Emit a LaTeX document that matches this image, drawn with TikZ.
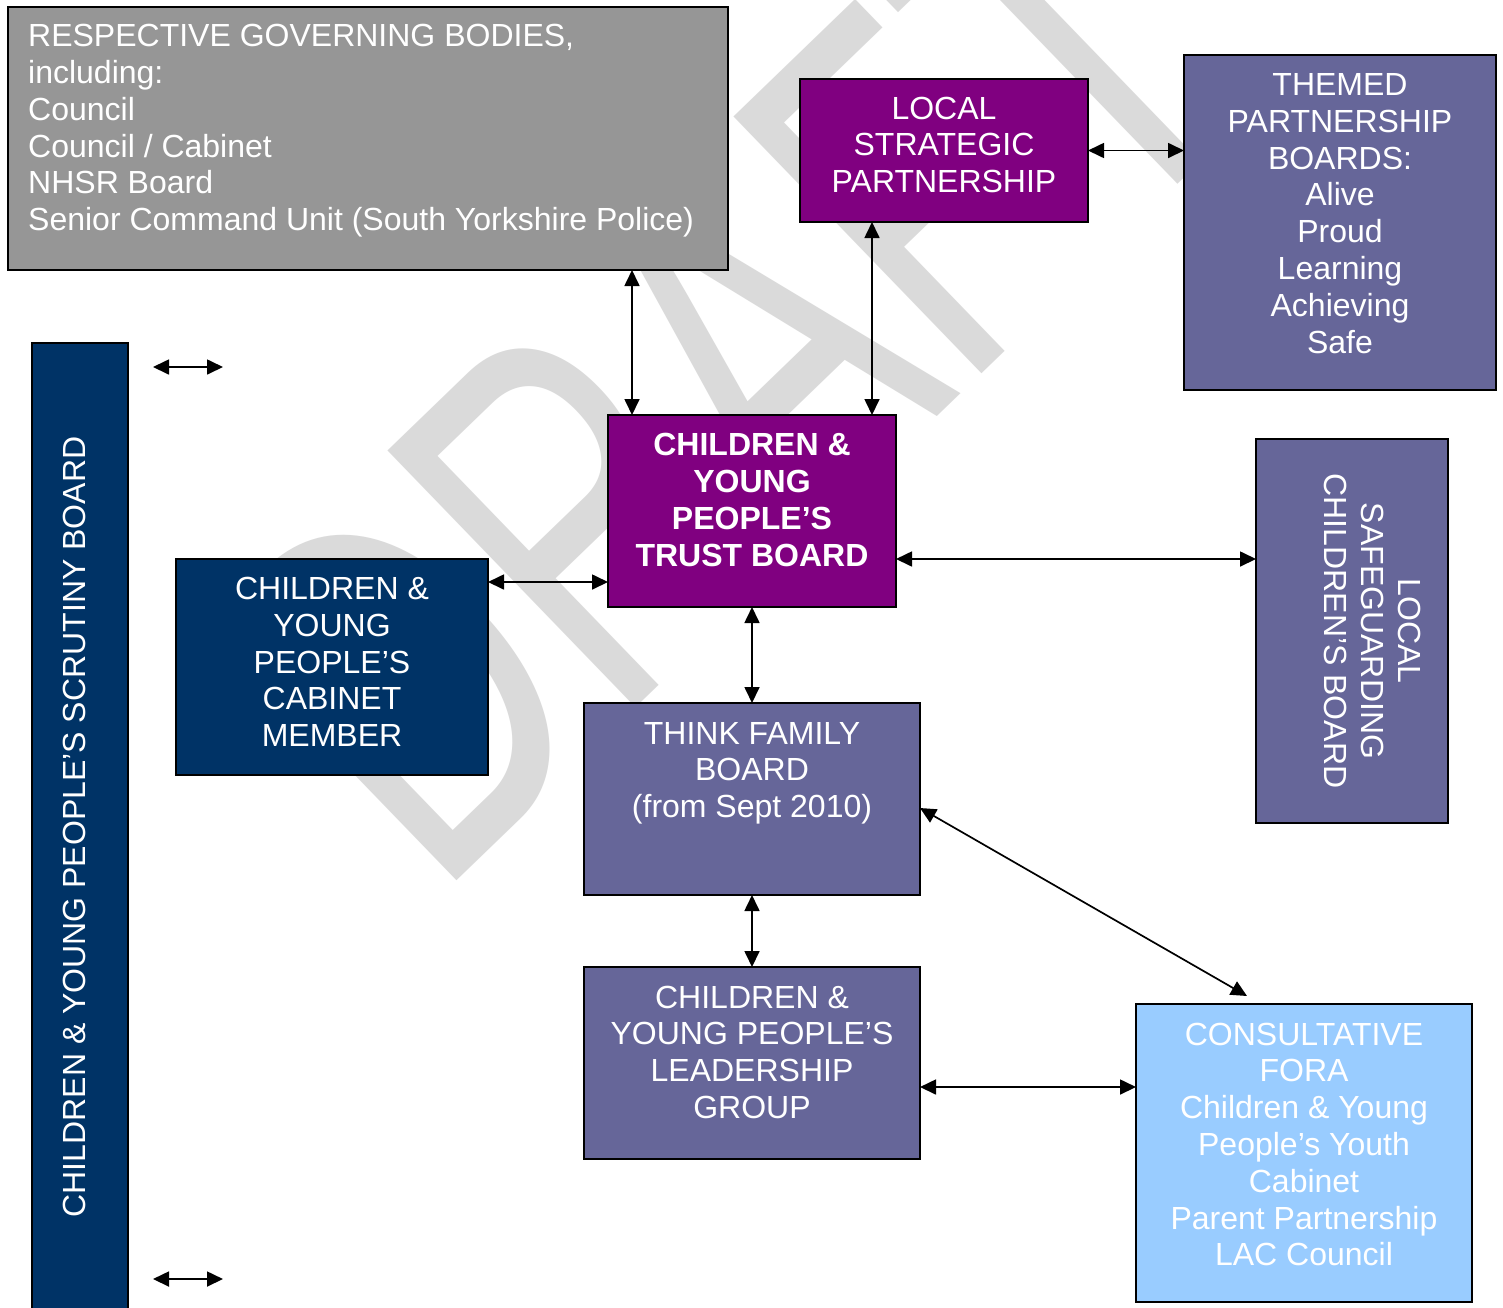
\documentclass[tikz,border=0pt]{standalone}
\usepackage{fontspec}
\setmainfont{Liberation Sans}
\usepackage{graphicx}
\usetikzlibrary{arrows.meta,calc}

\definecolor{govgrey}{HTML}{969696}
\definecolor{lsppurple}{HTML}{800080}
\definecolor{slate}{HTML}{666699}
\definecolor{navy}{HTML}{003366}
\definecolor{skyblue}{HTML}{99CCFF}
\definecolor{wmgrey}{RGB}{218,218,218}

% stacked lines whose first baseline is the node's base
\newcommand{\midlines}[1]{\begin{tabular}[t]{@{}c@{}}#1\end{tabular}}
\newcommand{\leftlines}[1]{\begin{tabular}[t]{@{}l@{}}#1\end{tabular}}

\tikzset{
  box/.style={draw=black, line width=2pt, inner sep=0pt, outer sep=0pt},
  boxtext/.style={text=white, inner sep=0pt, font=\fontsize{32}{36.8}\selectfont},
  wmark/.style={text=wmgrey, inner sep=0pt, font=\fontsize{346}{346}\selectfont},
  link/.style={line width=1.7pt, {Triangle[length=16pt,width=15pt]}-{Triangle[length=16pt,width=15pt]}},
}

\begin{document}
\begin{tikzpicture}[x=1pt,y=-1pt]
\useasboundingbox (0,0) rectangle (1503,1307);
\clip (0,0) rectangle (1503,1307);
\fill[white] (0,0) rectangle (1503,1307);

% background watermark
\node[wmark, rotate=44, anchor=base west] (draft) at (436,901) {\scalebox{1}[1.5]{DRAFT}};

% boxes
\node[box, fill=govgrey, minimum width=720pt, minimum height=263pt] (gov) at (368,138.5) {};
\node[box, fill=lsppurple, minimum width=288pt, minimum height=143pt] (lsp) at (944,150.5) {};
\node[box, fill=slate, minimum width=312pt, minimum height=335pt] (themed) at (1340,222.5) {};
\node[box, fill=lsppurple, minimum width=288pt, minimum height=192pt] (trust) at (752,511) {};
\node[box, fill=navy, minimum width=312pt, minimum height=216pt] (cabinet) at (332,667) {};
\node[box, fill=slate, minimum width=336pt, minimum height=192pt] (think) at (752,799) {};
\node[box, fill=slate, minimum width=336pt, minimum height=192pt] (lead) at (752,1063) {};
\node[box, fill=slate, minimum width=192pt, minimum height=384pt] (lscb) at (1352,631) {};
\node[box, fill=skyblue, minimum width=336pt, minimum height=298pt] (fora) at (1304,1153) {};
\node[box, fill=navy, minimum width=96pt, minimum height=972pt] (scrutiny) at (80,829) {};

% box texts
\node[boxtext, anchor=base west] (govtext) at (28,46.7) {\leftlines{RESPECTIVE GOVERNING BODIES,\\ including:\\ Council\\ Council / Cabinet\\ NHSR Board\\ Senior Command Unit (South Yorkshire Police)}};
\node[boxtext, anchor=base] (lsptext) at (944,119) {\midlines{LOCAL\\ STRATEGIC\\ PARTNERSHIP}};
\node[boxtext, anchor=base] (themedtext) at (1340,95.5) {\midlines{THEMED\\ PARTNERSHIP\\ BOARDS:\\ Alive\\ Proud\\ Learning\\ Achieving\\ Safe}};
\node[boxtext, anchor=base, font=\fontsize{32}{37.2}\selectfont\bfseries] (trusttext) at (752,455) {\midlines{CHILDREN \&\\ YOUNG\\ PEOPLE’S\\ TRUST BOARD}};
\node[boxtext, anchor=base] (cabinettext) at (332,599.5) {\midlines{CHILDREN \&\\ YOUNG\\ PEOPLE’S\\ CABINET\\ MEMBER}};
\node[boxtext, anchor=base] (thinktext) at (752,744) {\midlines{THINK FAMILY\\ BOARD\\ (from Sept 2010)}};
\node[boxtext, anchor=base] (leadtext) at (752,1008) {\midlines{CHILDREN \&\\ YOUNG PEOPLE’S\\ LEADERSHIP\\ GROUP}};
\node[boxtext, anchor=base] (foratext) at (1304,1045) {\midlines{CONSULTATIVE\\ FORA\\ Children \& Young\\ People’s Youth\\ Cabinet\\ Parent Partnership\\ LAC Council}};
\node[boxtext, anchor=base, rotate=-90] (lscbtext) at (1398,631) {\midlines{LOCAL\\ SAFEGUARDING\\ CHILDREN’S BOARD}};
\node[boxtext, anchor=base, rotate=90] (scrutinytext) at (85,827) {CHILDREN \& YOUNG PEOPLE’S SCRUTINY BOARD};

% connector positions
\coordinate (govx) at (632,0);
\coordinate (lspx) at (872,0);
\coordinate (caby) at (0,582);
\coordinate (lscby) at (0,559);
\coordinate (leady) at (0,1087);
\coordinate (thinky) at (0,808);
\coordinate (foratop) at (1247,996);
\coordinate (s1a) at (153,367);
\coordinate (s1b) at (223,367);
\coordinate (s2a) at (153,1279);
\coordinate (s2b) at (223,1279);

% connectors
\draw[link] (lsp.east) -- (lsp.east -| themed.west);
\draw[link] (gov.south -| govx) -- (trust.north -| govx);
\draw[link] (lsp.south -| lspx) -- (trust.north -| lspx);
\draw[link] (cabinet.east |- caby) -- (trust.west |- caby);
\draw[link] (trust.east |- lscby) -- (lscb.west |- lscby);
\draw[link] (trust.south) -- (think.north);
\draw[link] (think.south) -- (lead.north);
\draw[link] (lead.east |- leady) -- (fora.west |- leady);
\draw[link] (think.east |- thinky) -- (foratop);
\draw[link] (s1a) -- (s1b);
\draw[link] (s2a) -- (s2b);
\end{tikzpicture}
\end{document}
